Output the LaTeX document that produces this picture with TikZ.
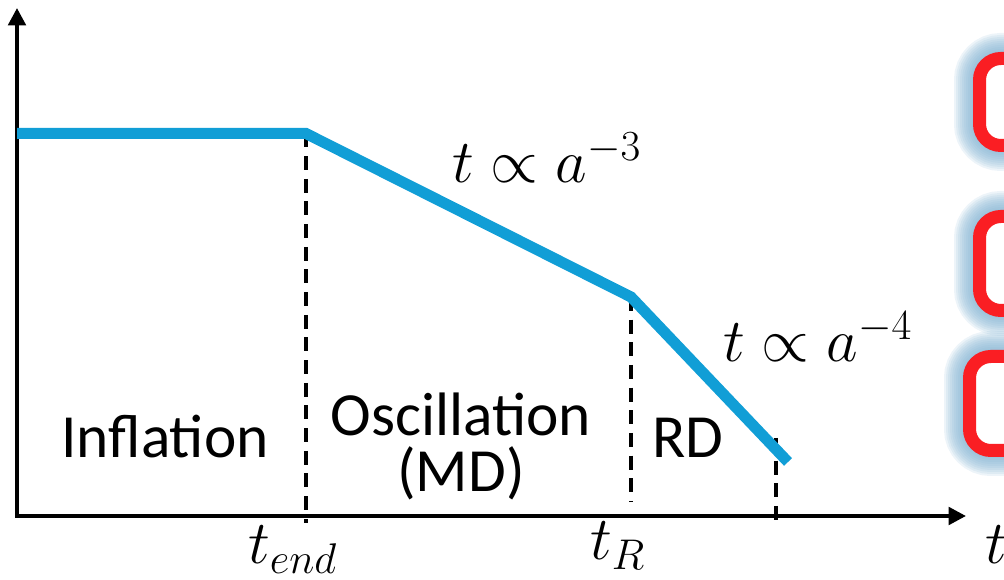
\RequirePackage{fix-cm}
\documentclass[tikz,border=0pt]{standalone}
\usepackage{fontspec}
\setmainfont{Carlito}
\usetikzlibrary{arrows.meta}
\definecolor{curveblue}{RGB}{17,158,214}
\definecolor{boxred}{RGB}{250,30,35}
\definecolor{glowblue}{RGB}{130,178,210}

\begin{document}
\begin{tikzpicture}[
    x=0.75pt, y=-0.75pt,
    axis/.style={line width=3pt, -{Triangle[length=13pt, width=13pt]}},
    curve/.style={line width=8.25pt, curveblue},
    guide/.style={line width=3pt, dash pattern=on 10.5pt off 6.5pt},
    era/.style={font=\fontsize{46}{50}\selectfont, inner sep=0pt, anchor=base},
    lbl/.style={font=\fontsize{46}{50}\selectfont, inner sep=0pt, anchor=base west},
    glow/.style={line width=#1, glowblue, opacity=0.14, rounded corners=16pt},
    redbox/.style={line width=9.75pt, boxred, rounded corners=16pt},
]
\useasboundingbox (0,0) rectangle (1004,580);
\clip (0,0) rectangle (1004,580);

% --- Boxes on the right (cut by the border) ---
\foreach \top/\bot/\lft in {58.5/145.5/979.5, 216.5/310.5/979.5, 356.5/450.5/969.5} {
  \foreach \w in {51,47,43,39,35,31,27,23,19,15}
    \draw[glow=0.75*\w pt] (\lft,\top) rectangle (1080,\bot);
  \fill[white, rounded corners=16pt] (\lft,\top) rectangle (1080,\bot);
  \draw[redbox] (\lft,\top) rectangle (1080,\bot);
}

% --- Axes ---
\coordinate (O) at (17,516);
\coordinate (ytop) at (17,8);
\coordinate (xend) at (966,516);
\draw[axis] (O) -- (ytop);
\draw[axis] ([xshift=-1.5pt]O) -- (xend);

% --- Curve ---
\coordinate (c0) at (17,133.5);
\coordinate (c1) at (306,133.5);
\coordinate (c2) at (631,297);
\coordinate (c3) at (788,462);
\coordinate (d1) at (306,523);
\coordinate (d2) at (631,502);
\coordinate (d3a) at (776,438);
\coordinate (d3b) at (776,527);

% --- Guides ---
\draw[guide] (c1) -- (d1);
\draw[guide] (c2) -- (d2);
\draw[guide] (d3a) -- (d3b);

\draw[curve] (c0) -- (c1) -- (c2) -- (c3);

% --- Eras ---
\node[era] (infl) at (165,458) {Inflation};
\node[era] (osc) at (461,436) {Oscillation};
\node[era] (md) at (461,492) {(MD)};
\node[era] (rd) at (688,458) {RD};

% --- Labels ---
\node[lbl] (law3) at (452,183) {$t \propto a^{-3}$};
\node[lbl] (law4) at (723,362) {$t \propto a^{-4}$};
\node[lbl] (tendlbl) at (248,564) {$t_{end}$};
\node[lbl] (tRlbl) at (590,560) {$t_R$};
\node[lbl] (tlbl) at (985,564) {$t$};

\end{tikzpicture}
\end{document}
